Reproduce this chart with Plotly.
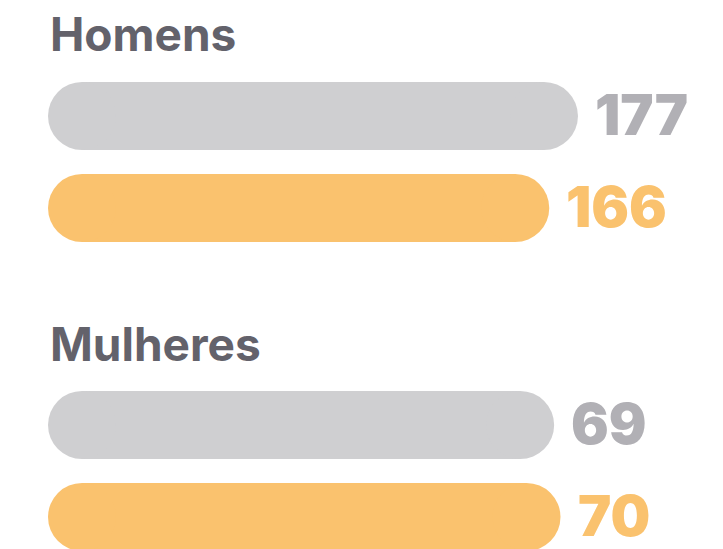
import plotly.graph_objects as go

# Data
groups = ["Homens", "Mulheres"]
series = ["Anterior", "Atual"]
values = {
    "Homens": [177, 166],
    "Mulheres": [69, 70],
}
bar_colors = ["#cfcfd1", "#fac26e"]
label_colors = ["#b1b0b5", "#fac26e"]
title_color = "#63626b"

W, H = 723, 549
BAR_H = 68  # pill thickness in px

# per-group layout: px per unit, y domain px, y range, title centre px
group_cfg = {
    "Homens": dict(px_per_unit=2.61, ydom=(70, 254), yrange=[1.5, -0.5], title_y=34),
    "Mulheres": dict(px_per_unit=6.35, ydom=(379, 549), yrange=[-0.5 + 170 / 92, -0.5], title_y=344),
}
X0_PX = 48 + BAR_H / 2
X_SPAN_PX = 600

fig = go.Figure()
annotations = []

for gi, g in enumerate(groups, start=1):
    cfg = group_cfg[g]
    xa = "x" if gi == 1 else f"x{gi}"
    ya = "y" if gi == 1 else f"y{gi}"
    for si, s in enumerate(series):
        v = values[g][si]
        # thick line with round markers at both ends forms a pill-shaped bar
        fig.add_trace(go.Scatter(
            x=[0, v], y=[s, s], xaxis=xa, yaxis=ya,
            mode="lines+markers",
            line=dict(color=bar_colors[si], width=BAR_H),
            marker=dict(color=bar_colors[si], size=BAR_H, line=dict(width=0)),
            cliponaxis=False, hoverinfo="skip", showlegend=False,
        ))
        annotations.append(dict(
            x=v, y=s, xref=xa, yref=ya, text=str(v),
            showarrow=False, xanchor="left", yanchor="middle",
            xshift=BAR_H / 2 + 15, yshift=1,
            font=dict(family="Inter", size=56, color=label_colors[si], weight=900),
        ))
    annotations.append(dict(
        x=48 / W, y=1 - cfg["title_y"] / H, xref="paper", yref="paper",
        text=g, showarrow=False, xanchor="left", yanchor="middle",
        font=dict(family="Inter", size=46, color=title_color, weight=700),
    ))
    xdom = [X0_PX / W, (X0_PX + X_SPAN_PX) / W]
    ydom = [1 - cfg["ydom"][1] / H, 1 - cfg["ydom"][0] / H]
    axis_common = dict(showgrid=False, zeroline=False, showticklabels=False,
                       showline=False, ticks="", fixedrange=True)
    fig.update_layout(**{
        ("xaxis" if gi == 1 else f"xaxis{gi}"): dict(
            domain=xdom, range=[0, X_SPAN_PX / cfg["px_per_unit"]],
            anchor=ya, **axis_common),
        ("yaxis" if gi == 1 else f"yaxis{gi}"): dict(
            domain=ydom, range=cfg["yrange"], type="category",
            categoryorder="array", categoryarray=series,
            anchor=xa, **axis_common),
    })

fig.update_layout(
    width=W, height=H,
    margin=dict(l=0, r=0, t=0, b=0),
    paper_bgcolor="white", plot_bgcolor="white",
    annotations=annotations,
    showlegend=False,
)

fig.write_html("out.html", config={"displayModeBar": False})
